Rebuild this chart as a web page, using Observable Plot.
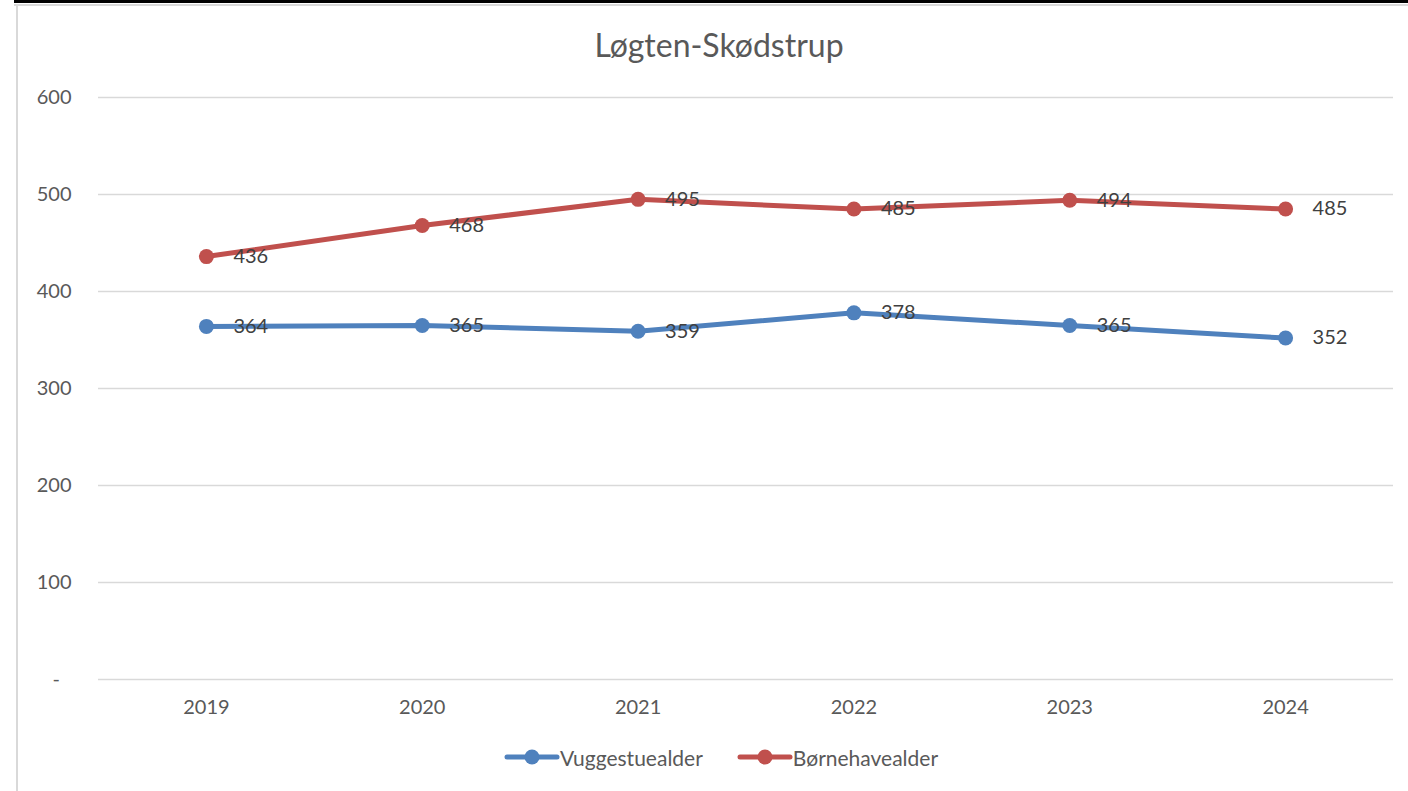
<!DOCTYPE html>
<html>
<head>
<meta charset="utf-8">
<script src="https://cdn.jsdelivr.net/npm/d3@7"></script>
<script src="https://cdn.jsdelivr.net/npm/@observablehq/plot@0.6"></script>
<style>
  html, body { margin: 0; padding: 0; background: #fff; }
  body { width: 1408px; height: 791px; position: relative; overflow: hidden; font-family: Lato, "Open Sans", sans-serif; }
  #chart { position: absolute; left: 0; top: 0; }
  .topblack { position: absolute; left: 14px; top: 0; width: 1394px; height: 3px; background: #000; }
  .topgray { position: absolute; left: 14px; top: 4px; width: 1394px; height: 1.5px; background: #d9d9d9; }
  .leftgray { position: absolute; left: 16px; top: 4px; width: 1.5px; height: 787px; background: #d9d9d9; }
  #title { position: absolute; left: 0; width: 1438px; top: 25px; text-align: center; font-size: 32px; color: #595959; }
  #legend { position: absolute; top: 744px; left: 0; width: 1442px; display: flex; justify-content: center; gap: 34px; font-size: 21px; color: #595959; }
  .item { display: flex; align-items: center; }
</style>
</head>
<body>
<div id="chart"></div>
<div class="topblack"></div>
<div class="topgray"></div>
<div class="leftgray"></div>
<div id="title">Løgten-Skødstrup</div>
<div id="legend"></div>
<script>
const years = ["2019", "2020", "2021", "2022", "2023", "2024"];
const seriesNames = ["Vuggestuealder", "Børnehavealder"];
const vuggestue = [364, 365, 359, 378, 365, 352];
const boernehave = [436, 468, 495, 485, 494, 485];
const colors = ["#4F81BD", "#C0504D"];
const yTicks = [0, 100, 200, 300, 400, 500, 600];

const data = [
  ...years.map((y, i) => ({year: y, value: vuggestue[i], series: seriesNames[0]})),
  ...years.map((y, i) => ({year: y, value: boernehave[i], series: seriesNames[1]}))
];

const plot = Plot.plot({
  width: 1408,
  height: 791,
  marginTop: 97,
  marginBottom: 112,
  marginLeft: 98,
  marginRight: 15,
  style: {fontFamily: "Lato, 'Open Sans', sans-serif", background: "transparent"},
  x: {type: "point", domain: years, padding: 0.5, round: false, label: null},
  y: {domain: [0, 600], label: null},
  color: {domain: seriesNames, range: colors},
  marks: [
    Plot.ruleY(yTicks, {stroke: "#d9d9d9", strokeWidth: 1.5}),
    Plot.axisY({ticks: yTicks, tickSize: 0, tickPadding: 27, fontSize: 20, fill: "#595959",
      tickFormat: d => d === 0 ? "-\u2007" : String(d)}),
    Plot.axisX({tickSize: 0, tickPadding: 20, fontSize: 20, fill: "#595959"}),
    Plot.line(data, {x: "year", y: "value", stroke: "series", z: "series", strokeWidth: 5, strokeLinejoin: "round", strokeLinecap: "round"}),
    Plot.dot(data, {x: "year", y: "value", fill: "series", r: 7.5, stroke: null}),
    Plot.text(data, {x: "year", y: "value", text: d => String(d.value), dx: 27, textAnchor: "start", fontSize: 20, fill: "#404040"})
  ]
});
document.getElementById("chart").appendChild(plot);

const legend = document.getElementById("legend");
seriesNames.forEach((name, i) => {
  const item = document.createElement("div");
  item.className = "item";
  item.innerHTML = `<svg width="56" height="26"><line x1="3" y1="13" x2="53" y2="13" stroke="${colors[i]}" stroke-width="5" stroke-linecap="round"/><circle cx="28" cy="13" r="7.5" fill="${colors[i]}"/></svg><span>${name}</span>`;
  legend.appendChild(item);
});
</script>
</body>
</html>
